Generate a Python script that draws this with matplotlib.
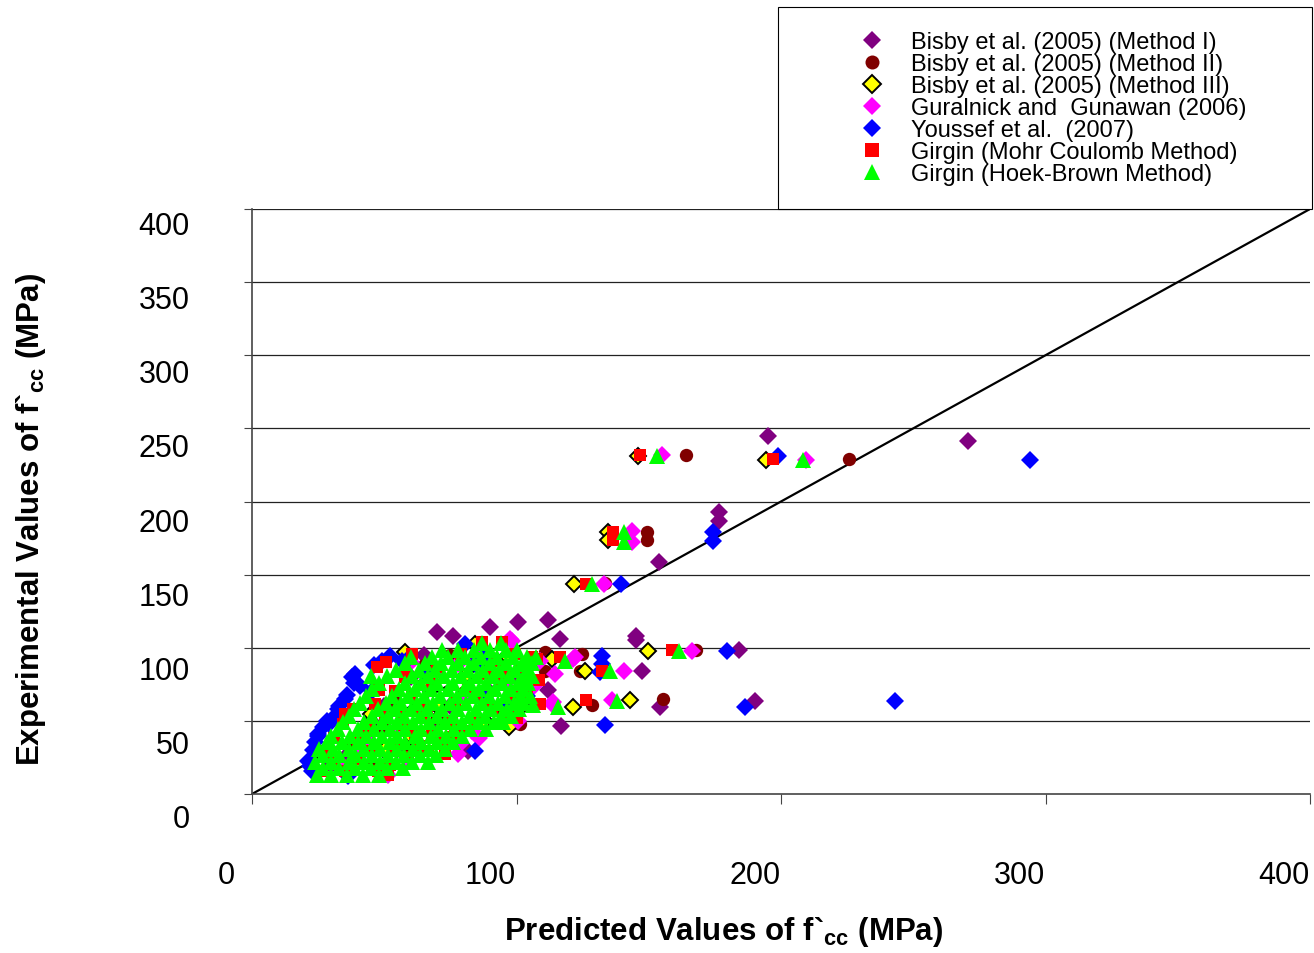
import matplotlib
matplotlib.use("Agg")
import matplotlib.pyplot as plt
from matplotlib.patches import Rectangle
from matplotlib.transforms import ScaledTranslation

plt.rcParams["font.family"] = ["Liberation Sans", "DejaVu Sans"]
plt.rcParams["mathtext.fontset"] = "custom"
plt.rcParams["mathtext.rm"] = "Liberation Sans"
plt.rcParams["mathtext.bf"] = "Liberation Sans:bold"

# ---- predicted (x) vs experimental (y) confined strength, MPa ----
bisby1_pred = [195, 270.7, 176.6, 176.6, 154, 184, 147.5, 154.3, 190, 112, 100.6, 90, 70, 76,
               116.4, 145, 145, 112, 117, 81.7, 85, 95, 60, 50, 40, 70, 30, 90, 65, 55, 75, 100,
               45, 35]
bisby1_exp = [244.8, 241.4, 192.8, 186.6, 158.6, 98.5, 84.1, 59.5, 63.6, 119, 117.6, 114, 110.8,
              108, 106, 108, 105, 71, 46.5, 29.4, 93.7, 88, 80, 60, 40, 50, 20, 70, 95, 30, 60,
              80, 50, 25]

bisby2_pred = [164, 225.7, 149.3, 149.3, 133.5, 168, 155.4, 128.5, 101.3, 110.8, 110.8, 124.8,
               124, 76.7, 60, 70, 80, 88, 45, 75, 55, 38, 65, 92, 50]
bisby2_exp = [231.8, 229, 179.1, 173.7, 144.3, 98.5, 65, 60.8, 47.9, 97, 84.1, 95.7, 84.1, 44.4,
              30, 52, 70, 85, 20, 95, 62, 35, 88, 58, 45]

bisby3_pred = [145.9, 194.3, 134.6, 134.6, 121.7, 149.7, 126, 143, 121.4, 102, 97, 84.3, 96.4,
               57.8, 113.4, 60, 70, 50, 80, 40, 88, 65, 45, 92]
bisby3_exp = [231, 228.4, 179.1, 173.7, 143.6, 97.8, 84.1, 64.3, 59.5, 60.2, 46, 102.6, 94.4,
              97, 92.3, 40, 60, 30, 80, 22, 50, 75, 55, 84]

guralnick_pred = [155, 209.5, 143.7, 143.7, 133, 166.4, 140.5, 136, 113.4, 98.3, 77.9, 94.5,
                  95.7, 98.7, 83.2, 77.9, 59, 49.1, 81.7, 78.6, 97.5, 122.1, 114.5, 113.8, 109,
                  121.4, 40, 35, 55, 65, 70, 60, 45, 88, 51.5, 100.5, 106.5, 86]
guralnick_exp = [231.8, 228.4, 179.8, 172, 143.6, 97.8, 84.1, 64.3, 61.5, 104.6, 88.9, 84.1,
                 75.2, 56.1, 43.1, 27.4, 22.6, 15.7, 66.3, 34.2, 106, 93.7, 82.1, 62.9, 91,
                 92.3, 25, 18, 45, 60, 80, 90, 35, 98, 13, 50, 74, 38]

youssef_pred = [199, 294, 174.3, 174.3, 139.5, 179.6, 243, 186.4, 133.5, 132.3, 132.3, 131.6,
                104, 52.2, 39, 37.8, 40.8, 31.4, 26.8, 23.8, 21.2, 22.7, 36.3, 80.5, 84.3, 65.4,
                56.7, 45.4, 88, 59, 84.3, 66.2, 97.5, 86.2, 98.3, 28.5, 25, 33, 35,
                22, 23, 25, 29, 32.5, 36, 38.5, 46, 49]
youssef_exp = [231, 228.4, 179.1, 173, 143.6, 97.8, 63.6, 59.5, 47, 94.4, 88.9, 83.4, 67,
               94.4, 82.1, 80, 73.8, 53.3, 45.8, 35.6, 22.6, 15.7, 12.3, 102.6, 29.4, 82.1, 91,
               70.4, 93.7, 92.3, 88.9, 83.4, 61.5, 68.4, 60.2, 50, 40, 60, 65,
               19, 30, 41, 48, 58, 68, 76, 88, 91]

girgin_mc_pred = [146.7, 197, 136.5, 136.5, 126.3, 158.8, 126.3, 108.9, 132.5, 107.8, 116.4,
                  60.5, 47.3, 57.8, 54.1, 46.5, 35.2, 34.4, 27.6, 26.5, 35.2, 47.6, 59.0, 66.5,
                  73.0, 75.6, 80.5, 84.3, 90.7, 96.8, 98.3, 95.7, 91.9, 99.4, 105.9, 87.0, 94.5,
                  60.5, 68.1, 76.7, 81.7, 88.1, 75.6, 64.3, 56.7, 50.3, 43.9, 40.1, 45.4, 54.1,
                  61.6, 68.1, 51.5, 50.5, 108.5, 104, 100,
                  31, 40, 52, 63, 72, 85, 94, 102, 70, 79, 89, 57, 66, 48, 38, 30.5]
girgin_mc_exp = [231.8, 229.1, 179.1, 173.7, 143.6, 98.5, 64.3, 61.5, 84.1, 92.3, 93.7,
                 95.7, 86.8, 80.0, 70.4, 61.5, 54.7, 47.9, 29.4, 15.7, 15.7, 15.7, 25.3, 29.4,
                 27.4, 39.0, 43.1, 49.9, 58.1, 54.7, 68.4, 82.1, 90.9, 95.7, 93.7, 103.9, 103.9,
                 66.3, 75.2, 63.6, 73.2, 61.5, 49.9, 54.7, 54.7, 52.6, 45.8, 36.2, 29.4, 32.1,
                 41.0, 41.0, 13, 90, 78, 66, 52,
                 38, 24, 20, 33, 36, 69, 78, 87, 87, 96, 82, 47, 59, 71, 58, 22]

girgin_hb_pred = [153, 208.3, 140.8, 140.8, 128.5, 161.4, 138, 135.3, 115.7, 106.2, 118.3,
                  102.5,
                  24.5, 30, 36, 42, 48,
                  27, 33, 39, 45, 51, 57,
                  24, 30, 36.5, 42.5, 48.5, 54.5, 60.5, 66.5,
                  27, 33, 39, 45.5, 51.5, 57.5, 63.5, 69.5,
                  25.5, 30.5, 36.5, 42.5, 48.5, 55, 61, 67, 73,
                  28.5, 34, 40, 46, 52, 58, 64, 70, 76,
                  30, 37, 43, 49, 55, 61.5, 67.5, 73.5, 79.5,
                  32.5, 40, 46, 52, 58, 64, 70.5, 76.5, 82.5, 88.5,
                  34.5, 42.5, 49, 55, 61, 67, 73, 79.5, 85.5, 91.5, 95,
                  36.5, 45.5, 51.5, 57.5, 63.5, 70, 76, 82, 88, 94, 98,
                  38.5, 47.5, 54, 60, 66, 72, 78, 84.5, 90.5, 96.5, 101,
                  41, 50.5, 56.5, 62.5, 68.5, 75, 81, 87, 93, 99, 103,
                  43, 53, 59, 65, 71, 77.5, 83.5, 89.5, 95.5, 101.5, 105,
                  45.5, 55.5, 61.5, 67.5, 74, 80, 86, 92, 98, 102.5,
                  48, 58, 64, 70, 76, 82.5, 88.5, 94.5, 100.5, 104.5,
                  45, 51, 60.5, 66.5, 72.5, 79, 85, 91, 97, 103, 106,
                  54.5, 63, 69, 75.5, 81.5, 87.5, 93.5, 99.5, 104,
                  58, 65.5, 71.5, 78, 84, 90, 96, 102, 106,
                  60, 68, 74, 80.5, 86.5, 92.5, 98.5, 104, 107.5,
                  72, 78, 84, 90, 96, 100,
                  87, 94]
girgin_hb_exp = [231, 228.4, 179.1, 172, 143.6, 97.8, 63.6, 84.1, 59.5, 60.9, 90.9,
                 88.9,
                 13, 13, 13, 13, 13,
                 17.5, 17.5, 17.5, 17.5, 17.5, 17.5,
                 22, 22, 22, 22, 22, 22, 22, 22,
                 26.5, 26.5, 26.5, 26.5, 26.5, 26.5, 26.5, 26.5,
                 31, 31, 31, 31, 31, 31, 31, 31, 31,
                 35.5, 35.5, 35.5, 35.5, 35.5, 35.5, 35.5, 35.5, 35.5,
                 40, 40, 40, 40, 40, 40, 40, 40, 40,
                 44.5, 44.5, 44.5, 44.5, 44.5, 44.5, 44.5, 44.5, 44.5, 44.5,
                 49, 49, 49, 49, 49, 49, 49, 49, 49, 49, 49,
                 53.5, 53.5, 53.5, 53.5, 53.5, 53.5, 53.5, 53.5, 53.5, 53.5, 53.5,
                 58, 58, 58, 58, 58, 58, 58, 58, 58, 58, 58,
                 62.5, 62.5, 62.5, 62.5, 62.5, 62.5, 62.5, 62.5, 62.5, 62.5, 62.5,
                 67, 67, 67, 67, 67, 67, 67, 67, 67, 67, 67,
                 71.5, 71.5, 71.5, 71.5, 71.5, 71.5, 71.5, 71.5, 71.5, 71.5,
                 76, 76, 76, 76, 76, 76, 76, 76, 76, 76,
                 80.5, 80.5, 80.5, 80.5, 80.5, 80.5, 80.5, 80.5, 80.5, 80.5, 80.5,
                 85, 85, 85, 85, 85, 85, 85, 85, 85,
                 89.5, 89.5, 89.5, 89.5, 89.5, 89.5, 89.5, 89.5, 89.5,
                 94, 94, 94, 94, 94, 94, 94, 94, 94,
                 98.5, 98.5, 98.5, 98.5, 98.5, 98.5,
                 103, 103]

series_labels = [
    "Bisby et al. (2005) (Method I)",
    "Bisby et al. (2005) (Method II)",
    "Bisby et al. (2005) (Method III)",
    "Guralnick and  Gunawan (2006)",
    "Youssef et al.  (2007)",
    "Girgin (Mohr Coulomb Method)",
    "Girgin (Hoek-Brown Method)",
]

x_ticks = [0, 100, 200, 300, 400]
y_ticks = [0, 50, 100, 150, 200, 250, 300, 350, 400]
equality_line = [0, 400]

W, H = 1314, 954
fig = plt.figure(figsize=(W / 100, H / 100), dpi=100)
fig.patch.set_facecolor("white")
ax = fig.add_axes([252 / W, 1 - 795 / H, 1058 / W, 585 / H])
ax.set_xlim(0, 400)
ax.set_ylim(0, 400)

# horizontal gridlines and the 1:1 line
for v in y_ticks[1:]:
    ax.axhline(v, color="#222222", lw=0.9, zorder=1)
ax.plot(equality_line, equality_line, color="black", lw=1.6, zorder=2)

styles = [
    dict(marker="D", ms=9.2, mfc="#800080", mec="#800080", mew=0),
    dict(marker="o", ms=9.6, mfc="#800000", mec="#800000", mew=0),
    dict(marker="D", ms=8.4, mfc="#FFFF00", mec="black", mew=1.4),
    dict(marker="D", ms=9.2, mfc="#FF00FF", mec="#FF00FF", mew=0),
    dict(marker="D", ms=9.2, mfc="#0000FF", mec="#0000FF", mew=0),
    dict(marker="s", ms=9.2, mfc="#FF0000", mec="#FF0000", mew=0),
    dict(marker="^", ms=11.0, mfc="#00FF00", mec="#00FF00", mew=0),
]
data = [
    (bisby1_pred, bisby1_exp),
    (bisby2_pred, bisby2_exp),
    (bisby3_pred, bisby3_exp),
    (guralnick_pred, guralnick_exp),
    (youssef_pred, youssef_exp),
    (girgin_mc_pred, girgin_mc_exp),
    (girgin_hb_pred, girgin_hb_exp),
]
handles = []
for i, ((xs, ys), st, lab) in enumerate(zip(data, styles, series_labels)):
    h, = ax.plot(xs, ys, linestyle="none", label=lab, zorder=3 + i, **st)
    handles.append(h)

# axes styling
for side in ("top", "right"):
    ax.spines[side].set_visible(False)
for side in ("left", "bottom"):
    ax.spines[side].set_color("#444444")
    ax.spines[side].set_linewidth(1.2)
ax.set_xticks(x_ticks)
ax.set_yticks(y_ticks)
ax.set_xticklabels([str(t) for t in x_ticks])
ax.set_yticklabels([str(t) for t in y_ticks])
ax.tick_params(axis="x", direction="out", length=7.2, width=0.8, color="#444444",
               labelsize=22, pad=40.5)
ax.tick_params(axis="y", direction="out", length=5.8, width=0.8, color="#444444",
               labelsize=22, pad=39)
for v, lbl in zip(y_ticks, ax.get_yticklabels()):
    drop = (13.5 + 8.0 * (400 - v) / 400) / 100
    lbl.set_transform(lbl.get_transform() + ScaledTranslation(0, -drop, fig.dpi_scale_trans))
for lbl in ax.get_xticklabels():
    lbl.set_transform(lbl.get_transform() + ScaledTranslation(-0.26, 0, fig.dpi_scale_trans))

ax.set_xlabel(r"Predicted Values of f`$_{\mathbf{cc}}$ (MPa)", fontsize=22.5,
              fontweight="bold", va="center", ha="center")
ax.xaxis.set_label_coords((724 - 252) / 1058, (795 - 932) / 585)
ax.set_ylabel(r"Experimental Values of f`$_{\mathbf{cc}}$ (MPa)", fontsize=22.5,
              fontweight="bold", va="center", ha="center")
ax.yaxis.set_label_coords((31 - 252) / 1058, (795 - 519) / 585)

# legend with its own box
frame = Rectangle((778 / W, 1 - 210 / H), 534 / W, 202 / H, transform=fig.transFigure,
                  facecolor="white", edgecolor="black", lw=0.8, zorder=20, clip_on=False)
ax.add_patch(frame)
leg = ax.legend(handles=handles, loc="upper left",
                bbox_to_anchor=(860 / W, 1 - 32 / H), bbox_transform=fig.transFigure,
                frameon=False, borderpad=0, borderaxespad=0, handlelength=1.0,
                handletextpad=1.16, labelspacing=0.0, fontsize=17, markerscale=1.05)
leg.set_zorder(21)

fig.savefig("out.png", dpi=100)
